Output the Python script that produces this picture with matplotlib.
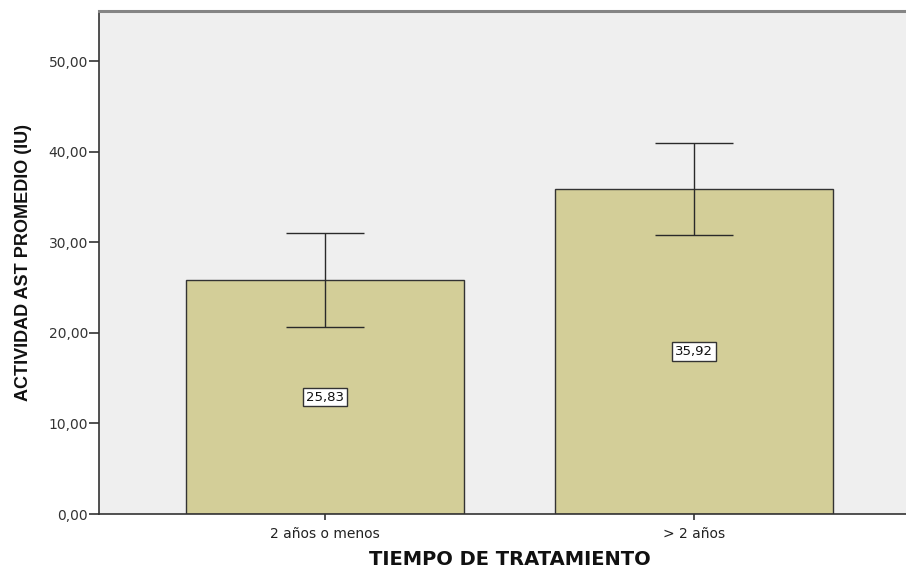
import matplotlib
matplotlib.use("Agg")
import matplotlib.pyplot as plt
import numpy as np

# Mean AST activity by treatment duration, with error bar half-widths
categories = ["2 años o menos", "> 2 años"]
means = [25.83, 35.92]
err_low = [5.15, 5.10]
err_high = [5.15, 5.10]
yticks = [0, 10, 20, 30, 40, 50]

plt.rcParams['font.family'] = ['DejaVu Sans']

W, H = 906, 568
fig = plt.figure(figsize=(W / 100, H / 100), dpi=100)
ax = fig.add_axes([99 / W, 1 - 514 / H, (W - 99) / W, (514 - 11) / H])
ax.set_facecolor("#EFEFEF")

x = np.arange(len(categories))
ax.bar(x, means, width=0.753, color="#D3CE98", edgecolor="#333333", linewidth=1.0, zorder=2)
ax.errorbar(x, means, yerr=[err_low, err_high], fmt="none", ecolor="#2a2a2a",
            elinewidth=1.0, capsize=28, capthick=1.0, zorder=3)

for xi, m in zip(x, means):
    ax.text(xi, m / 2, f"{m:.2f}".replace(".", ","), ha="center", va="center",
            fontsize=9.5, color="#111111", zorder=4,
            bbox=dict(boxstyle="square,pad=0.2", facecolor="white",
                      edgecolor="#333333", linewidth=1.0))

ax.set_xlim(-0.612, 1.574)
ax.set_ylim(0, 55.55)
ax.set_xticks(x)
ax.set_xticklabels(categories, fontsize=10, color="#222222")
ax.set_yticks(yticks)
ax.set_yticklabels([f"{v:.2f}".replace(".", ",") for v in yticks], fontsize=10, color="#333333")
ax.tick_params(axis="y", length=7, width=1.2, color="#333333", pad=1)
ax.tick_params(axis="x", length=4, width=1.2, color="#333333", pad=5)

for side in ["left", "bottom"]:
    ax.spines[side].set_color("#333333")
    ax.spines[side].set_linewidth(1.2)
ax.spines["top"].set_color("#858585")
ax.spines["top"].set_linewidth(2.2)
ax.spines["right"].set_visible(False)

ax.set_xlabel("TIEMPO DE TRATAMIENTO", fontsize=14, fontweight="bold", color="#111111")
ax.xaxis.set_label_coords(0.509, -0.072)
ax.set_ylabel("ACTIVIDAD AST PROMEDIO (IU)", fontsize=13, fontweight="bold", color="#111111",
              family=["Liberation Sans", "DejaVu Sans"])
ax.yaxis.set_label_coords(-0.083, 0.5)

fig.savefig("out.png", dpi=100, facecolor="white")
